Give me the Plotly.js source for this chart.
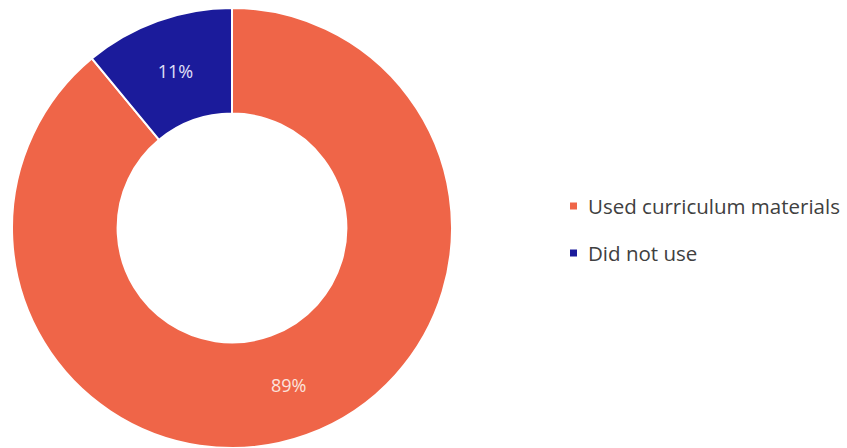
<!DOCTYPE html>
<html><head><meta charset="utf-8">
<script src="https://cdn.plot.ly/plotly-3.0.1.min.js"></script>
<style>html,body{margin:0;padding:0;background:#fff;}#chart{width:847px;height:448px;}</style>
</head><body><div id="chart"></div>
<script>
const categories = ["Used curriculum materials", "Did not use"];
const values = [89, 11];
const colors = ["#EF6548", "#1B1B9B"];
const textColors = ["#FBE3DC", "#E0E0F8"];

const W = 847, H = 448, MT = 8;
// pixel -> paper helpers (layout only)
const px = x => x / W;
const py = y => (H - y) / (H - MT);

// legend layout (pixels)
const legSymX = 570, legSymSize = 7, legTextX = 586, legY0 = 206, legStep = 47;

const data = [{
  type: "pie",
  labels: categories,
  values: values,
  hole: 0.52,
  sort: false,
  direction: "clockwise",
  rotation: 0,
  marker: {colors: colors, line: {color: "#ffffff", width: 2}},
  texttemplate: "%{value}%",
  textposition: "inside",
  insidetextorientation: "horizontal",
  insidetextfont: {family: "Open Sans, sans-serif", size: 18, color: textColors},
  domain: {x: [12/W, 452/W], y: [0, 1]},
  hoverinfo: "label+percent",
  showlegend: false
}];

const shapes = categories.map((c, i) => ({
  type: "rect", xref: "paper", yref: "paper",
  x0: px(legSymX), x1: px(legSymX + legSymSize),
  y0: py(legY0 + i * legStep + legSymSize / 2), y1: py(legY0 + i * legStep - legSymSize / 2),
  fillcolor: colors[i], line: {width: 0}
}));

const annotations = categories.map((c, i) => ({
  text: c, xref: "paper", yref: "paper",
  x: px(legTextX), y: py(legY0 + i * legStep),
  xanchor: "left", yanchor: "middle", showarrow: false,
  font: {family: "Open Sans, sans-serif", size: 20.5, color: "#404040"}
}));

const layout = {
  width: W, height: H,
  margin: {l: 0, r: 0, t: MT, b: 0},
  paper_bgcolor: "#ffffff",
  showlegend: false,
  shapes: shapes,
  annotations: annotations
};

Plotly.newPlot("chart", data, layout, {displayModeBar: false, staticPlot: true});
</script>
</body></html>
